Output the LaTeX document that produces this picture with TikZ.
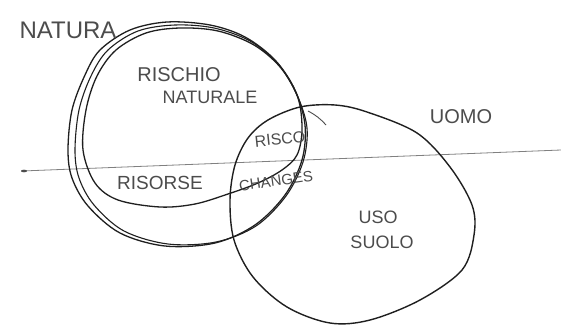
\documentclass[tikz,border=0pt]{standalone}
\usepackage{fontspec}
\setmainfont{Liberation Sans}
\begin{document}
\begin{tikzpicture}[x=1pt,y=-1pt,
  loop/.style={draw=black!88,line width=1.3pt,smooth cycle,tension=0.55},
  hand/.style={text=black!70,inner sep=0pt,font=\fontsize{#1}{#1}\selectfont},
  hand/.default=18]
\useasboundingbox (0,0) rectangle (561,329);
\fill[white] (0,0) rectangle (561,329);

% horizon line
\draw[black!50,line width=0.8pt] (22,171) -- (561,150);
\fill[black!70] (24,171) ellipse (3pt and 1.3pt);

% NATURA: three loose loops
\draw[loop] plot coordinates {(68,150) (72,110) (85,75) (100,50) (130,30) (167,22) (210,25) (245,37) (275,60) (295,90) (305,125) (302,160) (285,195) (255,225) (215,243) (165,246) (120,233) (88,206) (72,178)};
\draw[loop,line width=1.1pt] plot coordinates {(75,150) (79,110) (91,76) (108,50) (138,31) (175,25) (214,28) (250,41) (278,64) (297,95) (307,128) (303,162) (286,196) (256,226) (216,242) (168,244) (124,231) (94,205) (79,178)};
\draw[loop] plot coordinates {(83,150) (86,110) (97,76) (116,50) (146,33) (180,28) (218,31) (254,45) (281,68) (298,98) (302,130) (297,155) (282,170) (258,183) (228,194) (195,204) (160,207) (118,200) (95,183)};
% overshooting stroke
\draw[black!70,line width=0.9pt] (308,111) to[bend left=10] (326,125);

% UOMO: land use circle
\draw[loop,line width=1.4pt] plot coordinates {(230,200) (235,165) (248,138) (268,120) (300,107) (335,105) (367,112) (417,133) (450,167) (472,205) (474,235) (462,270) (420,300) (370,320) (330,323) (287,307) (253,277) (234,240)};

% labels
\node[hand=24] (natura) at (68,30) {NATURA};
\node[hand=20] (rischio) at (179,75) {RISCHIO};
\node[hand=18] (naturale) at (210,97) {NATURALE};
\node[hand=20] (uomo) at (461,117) {UOMO};
\node[hand=16,rotate=6] (risco) at (280,139) {RISCO};
\node[hand=19] (risorse) at (160,183) {RISORSE};
\node[hand=15,rotate=8] (changes) at (276,181) {CHANGES};
\node[hand=18] (uso) at (378,217) {USO};
\node[hand=18] (suolo) at (382,242) {SUOLO};
\end{tikzpicture}
\end{document}
